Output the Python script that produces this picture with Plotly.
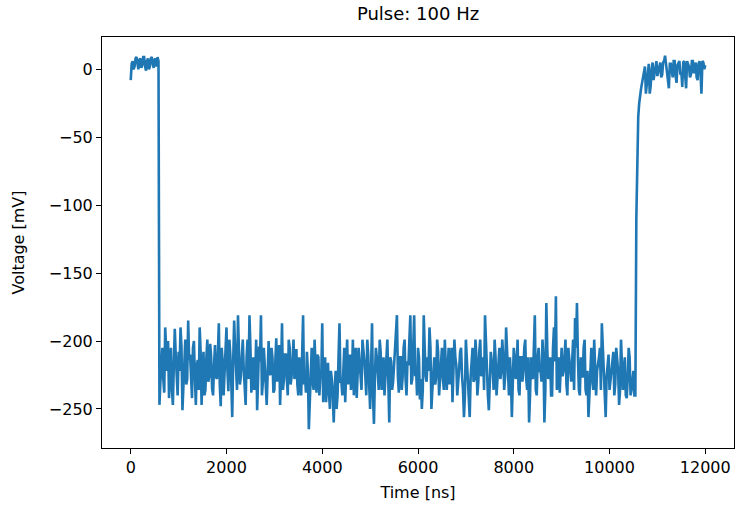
import plotly.graph_objects as go

# ---- data ----
# samples on the even 40 ns grid
time_high1 = list(range(0, 600, 40))
volt_high1 = [-8, 6, 2, 9, 0, 8, 3, 9, -1, 8, 2, 9, 1, 8, 9]
# samples on the odd 20 ns offsets
time_high1_b = list(range(20, 600, 40))
volt_high1_b = [4, 0, 8, 3, 7, 1, 9, 2, 6, 0, 8, 4, 7, 2, 6]

time_low = list(range(600, 10560, 40))
volt_low = [
    -247, -215, -228, -190, -222, -242, -205, -247, -191, -230,
    -208, -190, -251, -218, -232, -185, -210, -242, -200, -247,
    -214, -190, -247, -208, -236, -199, -226, -212, -240, -203,
    -228, -187, -248, -215, -225, -190, -237, -210, -256, -185,
    -222, -181, -232, -208, -220, -247, -199, -181, -238, -212,
    -226, -251, -204, -181, -230, -215, -247, -200, -225, -212,
    -236, -198, -222, -247, -187, -228, -210, -240, -205, -226,
    -199, -218, -232, -212, -240, -181, -226, -208, -265, -215,
    -230, -199, -238, -212, -226, -187, -232, -245, -216, -250,
    -228, -260, -222, -240, -187, -230, -212, -245, -199, -222,
    -236, -199, -218, -242, -205, -228, -199, -215, -240, -210,
    -250, -187, -261, -205, -228, -199, -236, -212, -222, -199,
    -260, -215, -230, -205, -181, -238, -212, -226, -199, -240,
    -218, -181, -228, -181, -220, -205, -243, -250, -181, -226,
    -212, -190, -250, -218, -232, -199, -240, -212, -228, -199,
    -236, -205, -222, -245, -199, -218, -232, -208, -226, -256,
    -199, -222, -256, -212, -230, -199, -240, -208, -226, -212,
    -181, -232, -251, -208, -222, -199, -240, -215, -228, -199,
    -236, -190, -222, -212, -256, -205, -228, -199, -240, -212,
    -222, -199, -236, -260, -212, -228, -181, -240, -205, -222,
    -199, -260, -172, -228, -212, -240, -190, -167, -226, -238,
    -205, -222, -199, -240, -212, -230, -199, -183, -172, -236,
    -212, -226, -199, -240, -256, -212, -228, -199, -240, -218,
    -205, -187, -228, -256, -215, -236, -222, -208, -232, -215,
    -247, -199, -236, -212, -242, -205, -240, -226, -240,
]
time_low_b = list(range(620, 10560, 40))
volt_low_b = [
    -230, -205, -238, -212, -200, -226, -235, -218, -210, -240,
    -222, -204, -236, -199, -228, -214, -232, -205, -226, -218,
    -236, -208, -222, -240, -212, -230, -202, -235, -218, -226,
    -210, -232, -205, -240, -212, -222, -199, -230, -215, -205,
    -236, -210, -226, -199, -240, -212, -228, -205, -222, -236,
    -199, -228, -215, -240, -205, -232, -212, -224, -205, -238,
    -215, -230, -203, -222, -236, -210, -228, -199, -232, -215,
    -228, -206, -240, -222, -214, -232, -238, -222, -245, -205,
    -236, -222, -210, -240, -226, -245, -212, -232, -238, -222,
    -240, -236, -250, -212, -230, -240, -205, -226, -232, -210,
    -226, -240, -205, -228, -215, -236, -212, -226, -199, -232,
    -220, -240, -226, -212, -236, -208, -222, -240, -205, -230,
    -212, -236, -218, -199, -226, -212, -236, -205, -228, -215,
    -199, -232, -205, -226, -240, -212, -228, -236, -205, -230,
    -222, -205, -236, -212, -226, -208, -228, -205, -236, -215,
    -222, -232, -205, -228, -212, -240, -220, -205, -236, -240,
    -212, -236, -226, -205, -228, -212, -230, -199, -222, -236,
    -205, -240, -226, -215, -236, -212, -228, -205, -222, -212,
    -226, -205, -240, -226, -232, -212, -222, -236, -212, -230,
    -205, -228, -212, -240, -226, -205, -236, -212, -222, -230,
    -212, -236, -205, -222, -240, -205, -215, -236, -212, -222,
    -226, -212, -232, -205, -222, -215, -236, -205, -212, -240,
    -226, -205, -236, -222, -240, -205, -236, -215, -222, -212,
    -236, -205, -240, -226, -210, -228, -212, -240, -205, -222,
    -236, -215, -222, -240, -228, -212, -236, -222, -240,
]

time_high2 = list(range(10560, 12040, 40))
volt_high2 = [
    -110, -35, -18, -10, -5, -18, -2, -18, 0, -8, 3, -5,
    3, -6, 5, 10, -2, -14, 4, -6, 6, -10, 5, -4, -13, 6, -14,
    4, -6, 6, -3, 5, -8, 6, -18, 5, 3,
]
time_high2_b = list(range(10580, 12000, 40))
volt_high2_b = [
    -65, -25, -14, -6, 2, -10, 4, -12, 5, -3, 6, -2,
    5, -4, 6, 2, -8, 4, -3, 6, -5, 3, 6, -2, 5, -6, 6, 2,
    -4, 6, 0, -6, 4, -2, 6, 0,
]

x_ticks = [0, 2000, 4000, 6000, 8000, 10000, 12000]
x_tick_text = ["0", "2000", "4000", "6000", "8000", "10000", "12000"]
y_ticks = [-250, -200, -150, -100, -50, 0]
y_tick_text = ["\u2212250", "\u2212200", "\u2212150", "\u2212100", "\u221250", "0"]

pairs = sorted(
    list(zip(time_high1, volt_high1)) + list(zip(time_high1_b, volt_high1_b))
    + list(zip(time_low, volt_low)) + list(zip(time_low_b, volt_low_b))
    + list(zip(time_high2, volt_high2)) + list(zip(time_high2_b, volt_high2_b))
)
time_all = [p[0] for p in pairs]
volt_all = [p[1] for p in pairs]

fig = go.Figure()
fig.add_trace(go.Scatter(
    x=time_all, y=volt_all, mode="lines",
    line=dict(color="#1f77b4", width=2.6),
    showlegend=False,
))

font_family = "DejaVu Sans"
axis_common = dict(
    showgrid=False, zeroline=False,
    showline=True, linecolor="black", linewidth=1.1, mirror=True,
    ticks="outside", ticklen=5, tickwidth=1.1, tickcolor="black",
    tickfont=dict(family=font_family, size=16, color="black"),
)

fig.update_layout(
    width=738, height=505,
    margin=dict(l=102, r=4, t=37, b=57),
    paper_bgcolor="white", plot_bgcolor="white",
    font=dict(family=font_family, color="black"),
    title=dict(text="Pulse: 100 Hz", x=0.5, xref="paper", xanchor="center",
               y=1 - 14 / 505, yref="container", yanchor="middle",
               font=dict(family=font_family, size=18, color="black")),
    xaxis=dict(range=[-600, 12600], tickvals=x_ticks, ticktext=x_tick_text,
               title=dict(text="Time [ns]", standoff=10,
                          font=dict(family=font_family, size=16, color="black")),
               **axis_common),
    yaxis=dict(range=[-278.75, 23.75], tickvals=y_ticks, ticktext=y_tick_text,
               title=dict(text="Voltage [mV]", standoff=20,
                          font=dict(family=font_family, size=16, color="black")),
               **axis_common),
)

fig.write_html("out.html")
